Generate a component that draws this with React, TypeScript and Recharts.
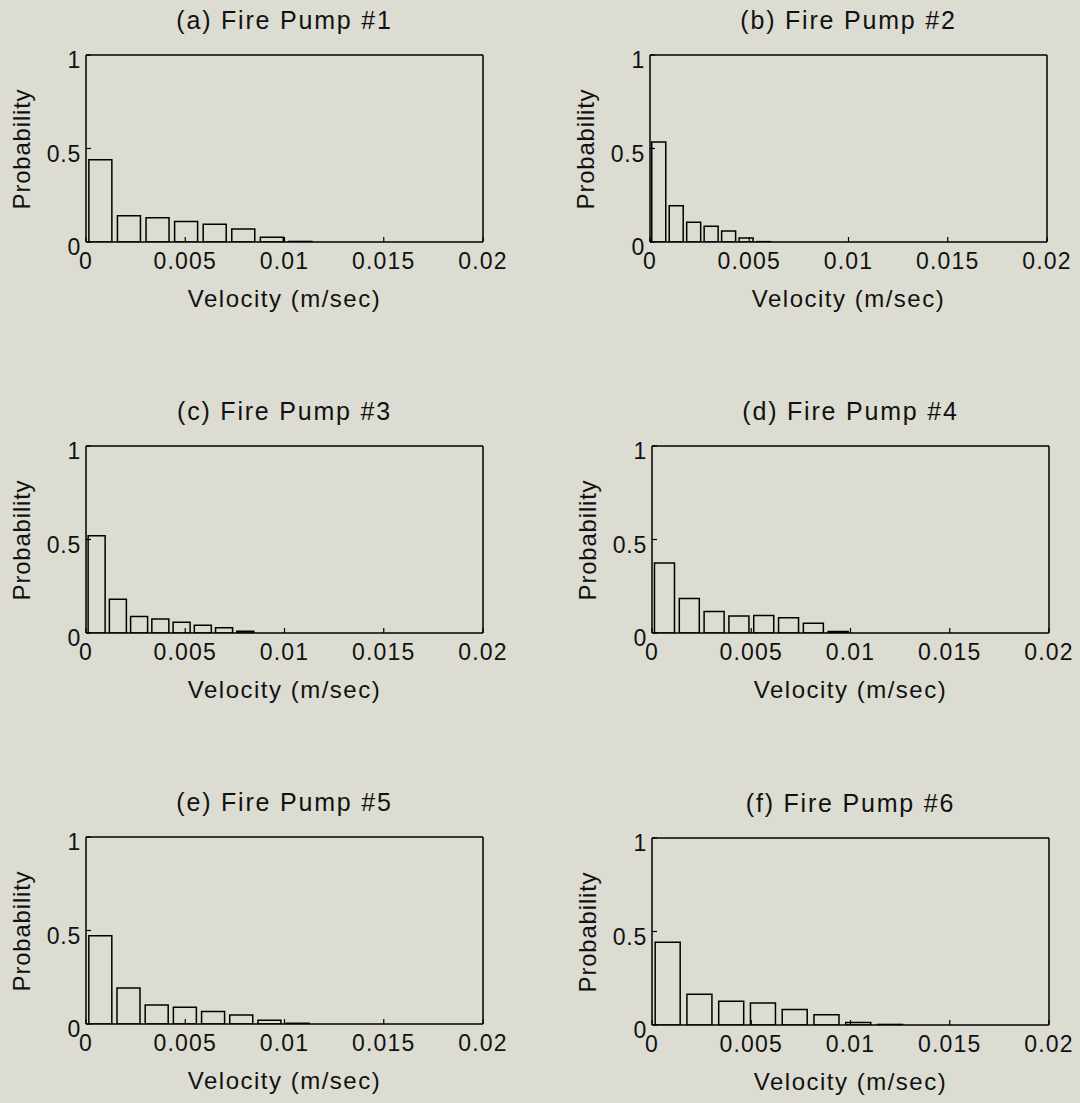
import React from 'react';
import { BarChart, Bar, XAxis, YAxis } from 'recharts';

// ---- data ----
const titles = [
  '(a) Fire Pump #1',
  '(b) Fire Pump #2',
  '(c) Fire Pump #3',
  '(d) Fire Pump #4',
  '(e) Fire Pump #5',
  '(f) Fire Pump #6',
];

// histogram bin centres (m/sec)
const centersA = [0.00072, 0.00216, 0.0036, 0.00504, 0.00648, 0.00792, 0.00936, 0.0108, 0.01224, 0.01368];
const centersB = [0.00044, 0.00132, 0.0022, 0.00308, 0.00396, 0.00484, 0.00572, 0.0066, 0.00748, 0.00836];
const centersC = [0.000535, 0.001605, 0.002675, 0.003745, 0.004815, 0.005885, 0.006955, 0.008025, 0.009095, 0.010165];
const centersD = [0.000625, 0.001875, 0.003125, 0.004375, 0.005625, 0.006875, 0.008125, 0.009375, 0.010625, 0.011875];
const centersE = [0.00071, 0.00213, 0.00355, 0.00497, 0.00639, 0.00781, 0.00923, 0.01065, 0.01207, 0.01349];
const centersF = [0.0008, 0.0024, 0.004, 0.0056, 0.0072, 0.0088, 0.0104, 0.012, 0.0136, 0.0152];

// probabilities
const probA = [0.44, 0.14, 0.13, 0.11, 0.095, 0.07, 0.025, 0.003, 0, 0];
const probB = [0.535, 0.194, 0.105, 0.084, 0.059, 0.021, 0.002, 0, 0, 0];
const probC = [0.52, 0.18, 0.088, 0.075, 0.058, 0.042, 0.028, 0.009, 0, 0];
const probD = [0.375, 0.184, 0.115, 0.091, 0.093, 0.082, 0.052, 0.008, 0, 0];
const probE = [0.472, 0.193, 0.101, 0.09, 0.067, 0.048, 0.02, 0.004, 0, 0];
const probF = [0.442, 0.164, 0.127, 0.118, 0.083, 0.055, 0.014, 0.003, 0, 0];

const xTicks = [0, 0.005, 0.01, 0.015, 0.02];
const yTicks = [0, 0.5, 1];
const xLabel = 'Velocity (m/sec)';
const yLabel = 'Probability';

// ---- layout ----
const FONT = "'Liberation Sans', Arial, Helvetica, sans-serif";
const BG = '#dcdcd2';
const INK = '#111';
const PW = 397;
const PH = 187;
const LEFT_PAD = 70;
const TOP_PAD = 10;
const RIGHT_PAD = 45;
const BOTTOM_AXIS = 40;
const BOTTOM_PAD = 5;

const panelPos = [
  { left: 86, top: 55 },
  { left: 650, top: 55 },
  { left: 86, top: 446 },
  { left: 652, top: 446 },
  { left: 86, top: 837 },
  { left: 652, top: 838 },
];

const seriesCenters = [centersA, centersB, centersC, centersD, centersE, centersF];
const seriesProbs = [probA, probB, probC, probD, probE, probF];

const fmtX = (v: number) => (v === 0 ? '0' : String(v));
const fmtY = (v: number) => (v === 0 ? '0' : String(v));

function Panel({ idx }: { idx: number }) {
  const pos = panelPos[idx];
  const data = seriesCenters[idx].map((c, i) => ({ v: c, p: seriesProbs[idx][i] }));
  const W = LEFT_PAD + PW + RIGHT_PAD;
  const H = TOP_PAD + PH + BOTTOM_AXIS + BOTTOM_PAD;
  const axisStroke = { stroke: '#000', strokeWidth: 1.5 };
  const tickStroke = { stroke: '#000', strokeWidth: 1.2 };
  return (
    <>
      <div
        style={{
          position: 'absolute',
          left: pos.left,
          top: pos.top - 47,
          width: PW,
          textAlign: 'center',
          fontSize: 25,
          lineHeight: '25px',
          letterSpacing: 1.8,
          color: INK,
          whiteSpace: 'nowrap',
        }}
      >
        {titles[idx]}
      </div>
      <div
        style={{
          position: 'absolute',
          left: pos.left,
          top: pos.top + PH + 45,
          width: PW,
          textAlign: 'center',
          fontSize: 24,
          lineHeight: '24px',
          letterSpacing: 1.5,
          color: INK,
          whiteSpace: 'nowrap',
        }}
      >
        {xLabel}
      </div>
      <div
        style={{
          position: 'absolute',
          left: pos.left - 64,
          top: pos.top + PH / 2,
          transform: 'translate(-50%, -50%) rotate(-90deg)',
          fontSize: 24,
          lineHeight: '24px',
          letterSpacing: 0.8,
          color: INK,
          whiteSpace: 'nowrap',
        }}
      >
        {yLabel}
      </div>
      <div style={{ position: 'absolute', left: pos.left - LEFT_PAD, top: pos.top - TOP_PAD }}>
        <BarChart
          width={W}
          height={H}
          data={data}
          margin={{ top: TOP_PAD - 1, right: RIGHT_PAD - 1, bottom: BOTTOM_PAD, left: LEFT_PAD - 60 }}
          barCategoryGap="10%"
        >
          <XAxis
            dataKey="v"
            type="number"
            domain={[0, 0.02]}
            ticks={xTicks}
            allowDataOverflow
            height={BOTTOM_AXIS}
            tickSize={-5}
            tickMargin={16}
            tickFormatter={fmtX}
            axisLine={axisStroke}
            tickLine={tickStroke}
            tick={{ fontSize: 23, fill: INK, letterSpacing: 1.2 }}
            interval={0}
          />
          <XAxis
            xAxisId="top"
            dataKey="v"
            type="number"
            orientation="top"
            domain={[0, 0.02]}
            ticks={xTicks}
            allowDataOverflow
            height={1}
            tickSize={-5}
            tickMargin={0}
            tick={false}
            axisLine={axisStroke}
            tickLine={tickStroke}
            interval={0}
          />
          <YAxis
            type="number"
            domain={[0, 1]}
            ticks={yTicks}
            allowDataOverflow
            width={60}
            tickSize={-5}
            tickMargin={10}
            tickFormatter={fmtY}
            axisLine={axisStroke}
            tickLine={tickStroke}
            tick={{ fontSize: 23, fill: INK, letterSpacing: 0.8, dy: 5 }}
            interval={0}
          />
          <YAxis
            yAxisId="right"
            orientation="right"
            type="number"
            domain={[0, 1]}
            ticks={yTicks}
            allowDataOverflow
            width={1}
            tickSize={-5}
            tickMargin={0}
            tick={false}
            axisLine={axisStroke}
            tickLine={tickStroke}
            interval={0}
          />
          <Bar
            dataKey="p"
            fill="none"
            stroke="#000"
            strokeWidth={1.5}
            isAnimationActive={false}
          />
        </BarChart>
      </div>
    </>
  );
}

export default function App() {
  return (
    <div
      style={{
        position: 'absolute',
        left: 0,
        top: 0,
        width: 1080,
        height: 1103,
        background: BG,
        fontFamily: FONT,
        overflow: 'hidden',
      }}
    >
      {titles.map((_, i) => (
        <Panel key={i} idx={i} />
      ))}
    </div>
  );
}
